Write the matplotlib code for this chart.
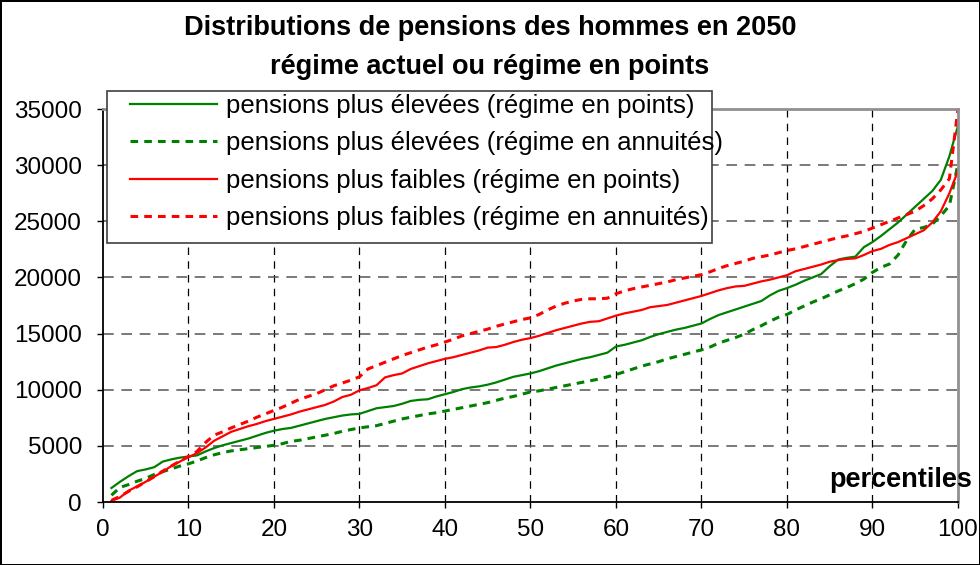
import matplotlib
matplotlib.use("Agg")
import matplotlib.pyplot as plt
from matplotlib.patches import Rectangle

plt.rcParams['font.family'] = ['Liberation Sans', 'DejaVu Sans']

# percentiles 1..100
percentiles = list(range(1, 101))

# pensions plus élevées (régime en points)
eleve_points = [
    1250, 1800, 2300, 2750, 2900, 3100, 3600, 3800, 3950, 4050,
    4150, 4500, 4800, 5050, 5250, 5450, 5650, 5900, 6150, 6350,
    6500, 6600, 6800, 7000, 7200, 7400, 7550, 7700, 7800, 7850,
    8100, 8350, 8450, 8550, 8750, 9000, 9100, 9150, 9400, 9600,
    9800, 10050, 10200, 10300, 10450, 10650, 10900, 11150, 11300, 11450,
    11650, 11900, 12150, 12350, 12550, 12750, 12900, 13100, 13300, 13850,
    14000, 14200, 14400, 14700, 14950, 15150, 15350, 15500, 15700, 15900,
    16300, 16650, 16900, 17150, 17400, 17650, 17900, 18400, 18800, 19050,
    19350, 19700, 20000, 20300, 21000, 21600, 21750, 21850, 22700, 23150,
    23700, 24300, 24900, 25600, 26300, 27000, 27700, 28700, 30800, 33500]

# pensions plus élevées (régime en annuités)
eleve_annuites = [
    600, 1300, 1550, 1850, 2100, 2450, 2700, 2950, 3200, 3400,
    3650, 3950, 4200, 4400, 4550, 4650, 4750, 4850, 4950, 5050,
    5200, 5400, 5500, 5650, 5800, 5950, 6100, 6300, 6450, 6600,
    6700, 6800, 7000, 7200, 7400, 7550, 7700, 7850, 7950, 8100,
    8250, 8400, 8550, 8700, 8850, 9050, 9250, 9400, 9600, 9800,
    9900, 10050, 10200, 10350, 10500, 10650, 10800, 10950, 11150, 11350,
    11600, 11850, 12100, 12300, 12500, 12750, 12950, 13150, 13350, 13550,
    13800, 14150, 14400, 14650, 14950, 15350, 15700, 16100, 16450, 16700,
    17100, 17450, 17800, 18100, 18450, 18800, 19100, 19450, 19850, 20450,
    20900, 21200, 22000, 23300, 24300, 24450, 24750, 25500, 26400, 30100]

# pensions plus faibles (régime en points)
faible_points = [
    100, 400, 1000, 1400, 1800, 2250, 2700, 3200, 3600, 4000,
    4350, 4850, 5450, 5850, 6250, 6500, 6750, 6950, 7200, 7400,
    7600, 7800, 8050, 8250, 8450, 8650, 8950, 9350, 9550, 9950,
    10150, 10400, 11100, 11300, 11450, 11850, 12100, 12350, 12550, 12750,
    12900, 13100, 13300, 13500, 13750, 13800, 14000, 14250, 14450, 14600,
    14800, 15050, 15300, 15500, 15700, 15900, 16050, 16100, 16350, 16600,
    16800, 16950, 17100, 17350, 17450, 17550, 17750, 17950, 18150, 18350,
    18600, 18850, 19050, 19200, 19250, 19450, 19650, 19800, 20000, 20200,
    20550, 20750, 20950, 21150, 21400, 21550, 21650, 21700, 22000, 22350,
    22550, 22900, 23150, 23500, 23850, 24200, 24900, 25900, 27500, 29500]

# pensions plus faibles (régime en annuités)
faible_annuites = [
    150, 500, 950, 1350, 1800, 2250, 2750, 3200, 3650, 4050,
    4500, 5300, 5950, 6250, 6600, 6900, 7200, 7550, 7850, 8150,
    8450, 8800, 9150, 9400, 9650, 10000, 10350, 10600, 10850, 11150,
    11850, 12150, 12450, 12750, 13050, 13300, 13550, 13800, 14000, 14250,
    14500, 14800, 15000, 15200, 15400, 15650, 15850, 16050, 16250, 16400,
    16700, 17100, 17450, 17700, 17900, 18050, 18100, 18100, 18150, 18550,
    18800, 19000, 19150, 19300, 19450, 19600, 19800, 19950, 20100, 20250,
    20500, 20800, 21050, 21250, 21450, 21700, 21850, 22000, 22200, 22400,
    22550, 22750, 22950, 23150, 23350, 23550, 23700, 23900, 24100, 24400,
    24700, 25000, 25300, 25600, 25900, 26400, 27000, 27800, 28800, 35000]

labels = ['pensions plus élevées (régime en points)',
          'pensions plus élevées (régime en annuités)',
          'pensions plus faibles (régime en points)',
          'pensions plus faibles (régime en annuités)']

fig = plt.figure(figsize=(9.8, 5.65), dpi=100)
fig.patch.set_edgecolor('black')
fig.patch.set_linewidth(2)
ax = fig.add_axes([0.105, 0.1115, 0.8725, 0.6955])

dash = (2.5, 2)
ax.plot(percentiles, eleve_points, color='#008000', lw=1.6, label=labels[0])
ax.plot(percentiles, eleve_annuites, color='#008000', lw=2.2, dashes=dash, label=labels[1])
ax.plot(percentiles, faible_points, color='#ff0000', lw=1.6, label=labels[2])
ax.plot(percentiles, faible_annuites, color='#ff0000', lw=2.2, dashes=dash, label=labels[3])

ax.set_xlim(0, 100)
ax.set_ylim(0, 35000)
ax.set_xticks(range(0, 101, 10))
ax.set_yticks(range(0, 35001, 5000))

# grille : verticales noires, horizontales grises
for x in range(10, 100, 10):
    ax.axvline(x, color='black', lw=0.9, dashes=(6, 5), zorder=0)
for y in range(5000, 35000, 5000):
    ax.axhline(y, color='#555555', lw=1.1, dashes=(7, 5), zorder=0)

for s in ['top', 'right']:
    ax.spines[s].set_color('#909090')
    ax.spines[s].set_linewidth(2)
for s in ['left', 'bottom']:
    ax.spines[s].set_color('black')
    ax.spines[s].set_linewidth(1.3)

ax.tick_params(axis='both', direction='out', length=4, width=1, labelsize=17.5)
ax.tick_params(axis='y', pad=11)
ax.tick_params(axis='x', pad=8)

ax.text(101.6, 1960, 'percentiles', ha='right', va='center', fontsize=19.5,
        fontweight='bold', clip_on=False)

fig.text(0.5, 0.95, 'Distributions de pensions des hommes en 2050',
         ha='center', va='center', fontsize=19.5, fontweight='bold')
fig.text(0.5, 0.881, 'régime actuel ou régime en points',
         ha='center', va='center', fontsize=19.5, fontweight='bold')

# cadre de légende dessiné à part (le texte déborde dans l'original)
ax.add_patch(Rectangle((107 / 980, 1 - 243 / 565), 605 / 980, 152 / 565,
                       transform=fig.transFigure, facecolor='white',
                       edgecolor='#404040', lw=1.2, zorder=4, clip_on=False))
leg = ax.legend(loc='upper left', bbox_to_anchor=(0.0316, 1.038), fontsize=18.5,
                frameon=False, handlelength=3.4, handletextpad=0.35,
                labelspacing=0.52, borderpad=0, borderaxespad=0)
leg.set_zorder(5)

fig.savefig('out.png', dpi=100)
